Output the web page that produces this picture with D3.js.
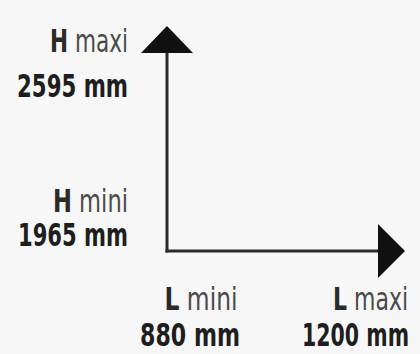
<!DOCTYPE html>
<html><head><meta charset="utf-8">
<script src="https://cdn.jsdelivr.net/npm/d3@7"></script>
<style>
html,body{margin:0;padding:0;background:#f7f7f7;}
svg{display:block;}
text{font-family:"Liberation Sans Narrow","DejaVu Sans Condensed","Roboto",sans-serif;}
</style></head>
<body>
<script>
const xNames = ["L mini", "L maxi"];
const xValues = [880, 1200];
const yNames = ["H mini", "H maxi"];
const yValues = [1965, 2595];
const unit = "mm";

const W = 420, H = 354;
const svg = d3.select("body").append("svg").attr("width", W).attr("height", H);
svg.append("rect").attr("width", W).attr("height", H).attr("fill", "#f7f7f7");

const x = d3.scaleLinear().domain(d3.extent(xValues)).range([167, 405]);
const y = d3.scaleLinear().domain(d3.extent(yValues)).range([251, 26]);

const x0 = x(xValues[0]), y0 = y(yValues[0]);
const xEnd = x(xValues[1]), yEnd = y(yValues[1]);
const headLen = 27, headHalf = 26;

svg.append("line").attr("x1", x0).attr("y1", y0 + 1.5).attr("x2", x0).attr("y2", yEnd + headLen)
  .attr("stroke", "#2b2b2b").attr("stroke-width", 3);
svg.append("line").attr("x1", x0 - 1.5).attr("y1", y0).attr("x2", xEnd - headLen).attr("y2", y0)
  .attr("stroke", "#2b2b2b").attr("stroke-width", 3);

svg.append("path").attr("d", d3.line()([[x0, yEnd], [x0 - headHalf, yEnd + headLen], [x0 + headHalf, yEnd + headLen]]) + "Z")
  .attr("fill", "#111");
svg.append("path").attr("d", d3.line()([[xEnd, y0], [xEnd - headLen, y0 - headHalf - 1], [xEnd - headLen, y0 + headHalf + 1]]) + "Z")
  .attr("fill", "#111");

const fmt = v => v + " " + unit;

// draws text condensed horizontally to a target width
function label(str, px, py, anchor, w, isValue, size) {
  const g = svg.append("g");
  const t = g.append("text").attr("x", 0).attr("y", 0).attr("text-anchor", anchor)
    .attr("font-size", size);
  if (isValue) {
    t.attr("font-weight", "bold").attr("fill", "#1e1e1e").text(str);
  } else {
    const parts = str.split(" ");
    t.append("tspan").attr("font-weight", "bold").attr("fill", "#2a2a2a").text(parts[0]);
    t.append("tspan").attr("fill", "#4a4a4a").text(" " + parts.slice(1).join(" "));
  }
  const nat = t.node().getComputedTextLength() || w;
  g.attr("transform", `translate(${px},${py}) scale(${w / nat},1)`);
}

const yLab = [
  {name: yNames[0], v: yValues[0], dy1: -39, dy2: -5, w1: 75, w2: 110},
  {name: yNames[1], v: yValues[1], dy1: 26, dy2: 71, w1: 78, w2: 111}
];
yLab.forEach(d => {
  label(d.name, 128, y(d.v) + d.dy1, "end", d.w1, false, 32);
  label(fmt(d.v), 128, y(d.v) + d.dy2, "end", d.w2, true, 32);
});

const xLab = [
  {name: xNames[0], v: xValues[0], a: "middle", dx1: 34, dx2: 23, w1: 73, w2: 100},
  {name: xNames[1], v: xValues[1], a: "end", dx1: 3, dx2: 4, w1: 75, w2: 107}
];
xLab.forEach(d => {
  label(d.name, x(d.v) + d.dx1, 310, d.a, d.w1, false, 32);
  label(fmt(d.v), x(d.v) + d.dx2, 346, d.a, d.w2, true, 32);
});
</script>
</body></html>
